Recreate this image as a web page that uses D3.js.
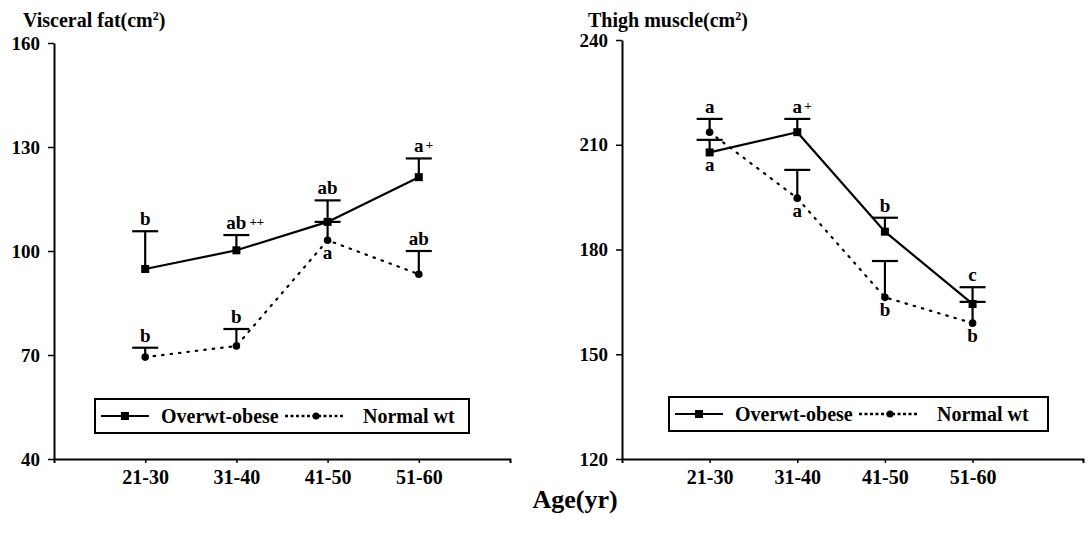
<!DOCTYPE html>
<html>
<head>
<meta charset="utf-8">
<script src="https://cdn.jsdelivr.net/npm/d3@7"></script>
<style>
  body { margin: 0; background: #fff; }
  svg text { font-family: "Liberation Serif", "Times New Roman", "DejaVu Serif", serif !important; }
  .tick text { font-weight: bold; }
</style>
</head>
<body>
<div class="holder"></div>
<script>
var ages = ["21-30", "31-40", "41-50", "51-60"];

// visceral fat (cm2)
var fatTicks = [40, 70, 100, 130, 160];
var fatOver = [94.8, 100.2, 108.4, 121.3];
var fatOverSE = [10.9, 4.4, 6.2, 5.4];
var fatNormal = [69.4, 72.6, 103.1, 93.3];
var fatNormalSE = [2.7, 4.9, 5.3, 6.7];
var fatOverLbl = ["b", "ab", "ab", "a"];
var fatOverSup = ["", "++", "", "+"];
var fatOverSide = ["above", "above", "above", "above"];
var fatNormalLbl = ["b", "b", "a", "ab"];
var fatNormalSide = ["above", "above", "below", "above"];

// thigh muscle (cm2)
var muscleTicks = [120, 150, 180, 210, 240];
var muscleOver = [207.8, 213.6, 185.1, 164.4];
var muscleOverSE = [3.6, 3.8, 4.0, 4.8];
var muscleNormal = [213.6, 194.7, 166.3, 158.9];
var muscleNormalSE = [3.8, 8.1, 10.4, 6.1];
var muscleOverLbl = ["a", "a", "b", "c"];
var muscleOverSup = ["", "+", "", ""];
var muscleOverSide = ["below", "above", "above", "above"];
var muscleNormalLbl = ["a", "a", "b", "b"];
var muscleNormalSide = ["above", "below", "below", "below"];

var seriesNames = ["Overwt-obese", "Normal wt"];
var serif = "'Liberation Serif', 'Times New Roman', serif";

var svg = d3.select(".holder").append("svg")
    .attr("width", 1088).attr("height", 535)
    .style("font-family", serif);

function panel(opt) {
  var g = svg.append("g");
  var scaleX = d3.scaleLinear().domain(opt.xDomain).range([opt.left, opt.right]);
  var scaleY = d3.scaleLinear().domain([opt.ticks[0], opt.ticks[opt.ticks.length - 1]])
      .range([opt.bottom, opt.top]);

  /* y axis */
  var ya = g.append("g").attr("transform", `translate(${opt.left},0)`)
      .call(d3.axisLeft(scaleY).tickValues(opt.ticks).tickSize(6).tickSizeOuter(0).tickPadding(8))
      .attr("font-family", serif).attr("font-size", null);
  ya.select(".domain").attr("stroke-width", 2);
  ya.selectAll(".tick line").attr("stroke-width", 1.5);
  ya.selectAll(".tick text").style("font-size", "19px");

  /* x axis */
  var xa = g.append("g").attr("transform", `translate(0,${opt.bottom})`)
      .call(d3.axisBottom(scaleX).tickValues([0, 1, 2, 3]).tickFormat(function (i) { return ages[i]; })
        .tickSize(4).tickSizeOuter(4).tickPadding(7))
      .attr("font-family", serif).attr("font-size", null);
  xa.select(".domain").attr("stroke-width", 2);
  xa.selectAll(".tick line").attr("stroke-width", 1.5);
  xa.selectAll(".tick text").style("font-size", "20px");

  g.append("text").attr("x", opt.titleX).attr("y", 27)
      .style("font-size", "20px").style("font-weight", "bold")
      .text(opt.title)
      .append("tspan").attr("dy", -7).style("font-size", "12px").text("2")
      .select(function () { return this.parentNode; })
      .append("tspan").attr("dy", 7).text(")");

  var series = [
    { vals: opt.over, se: opt.overSE, lbl: opt.overLbl, sup: opt.overSup, side: opt.overSide, dash: null, mark: "square" },
    { vals: opt.normal, se: opt.normalSE, lbl: opt.normalLbl, sup: null, side: opt.normalSide, dash: "1.5,7", mark: "circle" }
  ];

  var line = d3.line().x(function (d, i) { return scaleX(i); }).y(function (d) { return scaleY(d); });

  series.forEach(function (s) {
    g.append("path").datum(s.vals)
        .attr("d", line)
        .attr("fill", "none").attr("stroke", "#000")
        .attr("stroke-width", 2.2)
        .attr("stroke-linecap", "round")
        .attr("stroke-dasharray", s.dash);

    s.vals.forEach(function (v, i) {
      var cx = scaleX(i), cy = scaleY(v), top = scaleY(v + s.se[i]);
      g.append("line").attr("x1", cx).attr("x2", cx).attr("y1", cy).attr("y2", top)
          .attr("stroke", "#000").attr("stroke-width", 2.2);
      g.append("line").attr("x1", cx - 13).attr("x2", cx + 13).attr("y1", top).attr("y2", top)
          .attr("stroke", "#000").attr("stroke-width", 2.2);
      if (s.mark == "square") {
        g.append("rect").attr("x", cx - 4).attr("y", cy - 4).attr("width", 8).attr("height", 8);
      } else {
        g.append("circle").attr("cx", cx).attr("cy", cy).attr("r", 3.8);
      }
      var ly = s.side[i] == "above" ? top - 6 : cy + 19;
      g.append("text").attr("x", cx).attr("y", ly)
          .attr("text-anchor", "middle")
          .style("font-size", "19px").style("font-weight", "bold")
          .text(s.lbl[i]);
      if (s.sup && s.sup[i]) {
        g.append("text").attr("x", cx + (s.lbl[i].length > 1 ? 13 : 7)).attr("y", ly - 3)
            .style("font-size", "13px").style("font-weight", "bold")
            .text(s.sup[i]);
      }
    });
  });

  /* legend */
  var lg = g.append("g").attr("transform", `translate(${opt.legX},${opt.legY})`);
  lg.append("rect").attr("width", opt.legW).attr("height", 34)
      .attr("fill", "#fff").attr("stroke", "#000").attr("stroke-width", 2);
  lg.append("line").attr("x1", 6).attr("x2", 54).attr("y1", 17).attr("y2", 17)
      .attr("stroke", "#000").attr("stroke-width", 2);
  lg.append("rect").attr("x", 26).attr("y", 13).attr("width", 8).attr("height", 8);
  lg.append("text").attr("x", 66).attr("y", 24)
      .style("font-size", "20px").style("font-weight", "bold").text(seriesNames[0]);
  lg.append("line").attr("x1", 190).attr("x2", 250).attr("y1", 17).attr("y2", 17)
      .attr("stroke", "#000").attr("stroke-width", 2.5).attr("stroke-dasharray", "3,2.5");
  lg.append("circle").attr("cx", 221).attr("cy", 17).attr("r", 3.5);
  lg.append("text").attr("x", 268).attr("y", 24)
      .style("font-size", "20px").style("font-weight", "bold").text(seriesNames[1]);
}

panel({
  left: 54, right: 510, top: 43, bottom: 459, xDomain: [-1, 4],
  ticks: fatTicks, title: "Visceral fat(cm", titleX: 23,
  over: fatOver, overSE: fatOverSE, overLbl: fatOverLbl, overSup: fatOverSup, overSide: fatOverSide,
  normal: fatNormal, normalSE: fatNormalSE, normalLbl: fatNormalLbl, normalSide: fatNormalSide,
  legX: 95, legY: 399, legW: 374
});

panel({
  left: 622, right: 1083, top: 40, bottom: 459, xDomain: [-1, 4.26],
  ticks: muscleTicks, title: "Thigh muscle(cm", titleX: 588,
  over: muscleOver, overSE: muscleOverSE, overLbl: muscleOverLbl, overSup: muscleOverSup, overSide: muscleOverSide,
  normal: muscleNormal, normalSE: muscleNormalSE, normalLbl: muscleNormalLbl, normalSide: muscleNormalSide,
  legX: 669, legY: 397, legW: 379
});

svg.append("text").attr("x", 575).attr("y", 508)
    .attr("text-anchor", "middle")
    .style("font-size", "26px").style("font-weight", "bold")
    .text("Age(yr)");
</script>
</body>
</html>
